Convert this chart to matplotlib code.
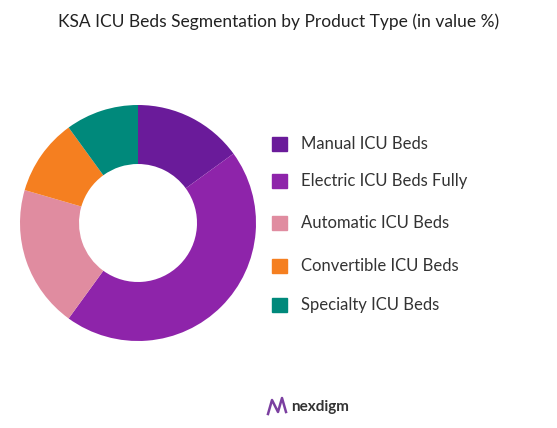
import matplotlib.pyplot as plt
from matplotlib.lines import Line2D

labels = ["Manual ICU Beds", "Electric ICU Beds Fully", "Automatic ICU Beds", "Convertible ICU Beds", "Specialty ICU Beds"]
values = [15.0, 45.0, 19.5, 10.5, 10.0]
colors = ["#6a1b9a", "#8e24aa", "#e08ca0", "#f57f20", "#00897b"]

fig = plt.figure(figsize=(5.57, 4.28), dpi=100)
fig.patch.set_facecolor("white")
ax = fig.add_axes([(138 - 118)/557, 1 - (223 + 118)/428, 236/557, 236/428])
ax.pie(values, colors=colors, startangle=90, counterclock=False, radius=1,
       wedgeprops=dict(width=0.5, edgecolor="none"))
ax.set_xlim(-1, 1)
ax.set_ylim(-1, 1)
ax.set_aspect("equal")

fig.text(0.5, 1 - 22/428, "KSA ICU Beds Segmentation by Product Type (in value %)",
         ha="center", va="center", fontsize=12.5, family="Lato", color="#222222")

ys = [144, 181, 223, 266, 305]
for lab, c, y in zip(labels, colors, ys):
    fig.patches.append(plt.Rectangle((272/557, 1 - (y + 7)/428), 15/557, 14/428,
                                     transform=fig.transFigure, color=c, figure=fig))
    fig.text(301/557, 1 - y/428, lab, ha="left", va="center", fontsize=12,
             family="Lato", color="#333333")

fig.text(291/557, 1 - 407/428, "nexdigm", ha="left", va="center", fontsize=11,
         family="Lato", color="#333333", weight="bold")
xs = [268, 272, 278, 282, 286]
yl = [414, 400, 412, 398, 412]
fig.lines.append(Line2D([x/557 for x in xs], [1 - y/428 for y in yl], color="#7b3fa0",
                        lw=1.8, transform=fig.transFigure, figure=fig))

fig.savefig("out.png", dpi=100)
